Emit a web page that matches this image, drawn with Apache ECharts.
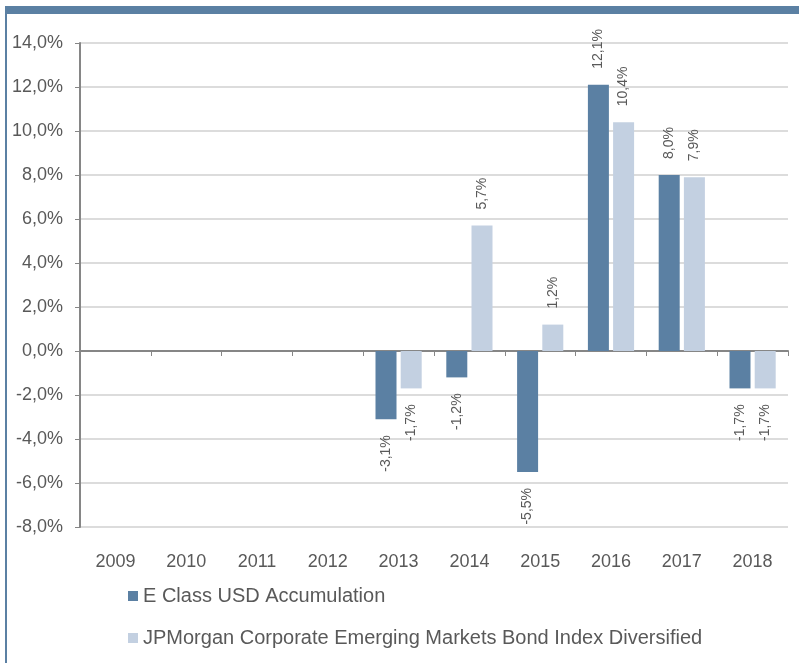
<!DOCTYPE html>
<html>
<head>
<meta charset="utf-8">
<script src="https://cdn.jsdelivr.net/npm/echarts@6/dist/echarts.min.js"></script>
<style>
  html, body { margin: 0; padding: 0; background: #fff; }
  #chart { width: 799px; height: 663px; }
</style>
</head>
<body>
<div id="chart"></div>
<script>
const years = ['2009', '2010', '2011', '2012', '2013', '2014', '2015', '2016', '2017', '2018'];
const eClass = [null, null, null, null, -3.1, -1.2, -5.5, 12.1, 8.0, -1.7];
const jpm = [null, null, null, null, -1.7, 5.7, 1.2, 10.4, 7.9, -1.7];
const seriesNames = ['E Class USD Accumulation', 'JPMorgan Corporate Emerging Markets Bond Index Diversified'];

const pct = v => v.toFixed(1).replace('.', ',') + '%';

// rotated labels: above for positive values, below for negative ones
const withLabels = arr => arr.map(v => {
  if (v === null) return null;
  const up = v >= 0;
  return {
    value: v,
    label: {
      show: true,
      position: up ? 'top' : 'bottom',
      rotate: 90,
      align: up ? 'left' : 'right',
      verticalAlign: 'middle',
      distance: 16,
      color: '#595959',
      fontSize: 14,
      fontFamily: 'Liberation Sans',
      formatter: p => pct(p.value)
    }
  };
});

const chart = echarts.init(document.getElementById('chart'));
chart.setOption({
  animation: false,
  textStyle: {fontFamily: 'Liberation Sans'},
  graphic: [
    {type: 'rect', shape: {x: 5, y: 6, width: 794, height: 8}, style: {fill: '#5b80a3'}, silent: true},
    {type: 'rect', shape: {x: 5, y: 6, width: 2, height: 657}, style: {fill: '#5b80a3'}, silent: true}
  ],
  grid: {left: 80, right: 11, top: 43, bottom: 136},
  legend: {
    orient: 'vertical',
    left: 123,
    top: 581,
    itemWidth: 10,
    itemHeight: 10,
    itemGap: 22,
    icon: 'rect',
    textStyle: {color: '#595959', fontSize: 20, fontFamily: 'Liberation Sans'},
    data: seriesNames
  },
  xAxis: [
    {
      type: 'category',
      data: years,
      position: 'bottom',
      axisLine: {show: false, onZero: false},
      axisTick: {show: false},
      axisLabel: {color: '#595959', fontSize: 18, margin: 26}
    },
    {
      type: 'category',
      data: years,
      position: 'bottom',
      axisLine: {show: true, onZero: true, lineStyle: {color: '#868686', width: 2}},
      axisTick: {show: true, length: 5, inside: false, lineStyle: {color: '#868686'}},
      axisLabel: {show: false}
    }
  ],
  yAxis: {
    type: 'value',
    min: -8,
    max: 14,
    interval: 2,
    axisLine: {show: true, lineStyle: {color: '#868686', width: 2}},
    axisTick: {show: true, length: 5, lineStyle: {color: '#868686'}},
    splitLine: {lineStyle: {color: '#dcdcdc', width: 2}},
    axisLabel: {color: '#595959', fontSize: 18, margin: 17, formatter: pct}
  },
  series: [
    {
      name: seriesNames[0],
      type: 'bar',
      data: withLabels(eClass),
      barWidth: 21,
      barGap: '20%',
      itemStyle: {color: '#5b80a3'}
    },
    {
      name: seriesNames[1],
      type: 'bar',
      data: withLabels(jpm),
      barWidth: 21,
      barGap: '20%',
      itemStyle: {color: '#c3d0e1'}
    }
  ]
});
</script>
</body>
</html>
